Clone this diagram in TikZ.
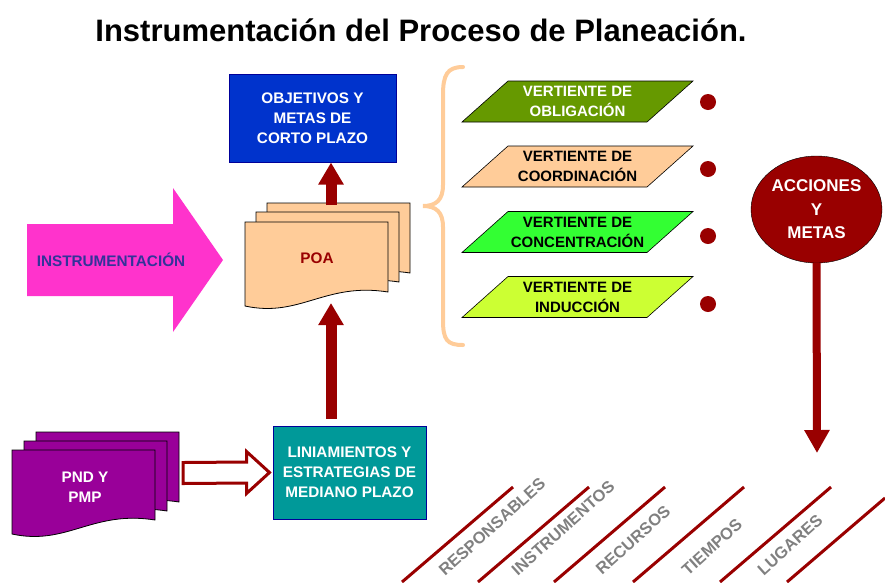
\documentclass[tikz,border=0pt]{standalone}
\usepackage{fontspec}
\setmainfont{Liberation Sans}
\usetikzlibrary{arrows.meta,calc,shapes.geometric}

\definecolor{rojo}{RGB}{153,0,0}
\definecolor{durazno}{RGB}{255,204,153}
\definecolor{rosa}{RGB}{255,51,204}
\definecolor{azulobj}{RGB}{0,51,204}
\definecolor{azulborde}{RGB}{0,0,153}
\definecolor{azultx}{RGB}{51,51,153}
\definecolor{morado}{RGB}{153,0,153}
\definecolor{verdeazul}{RGB}{0,153,153}
\definecolor{olivo}{RGB}{102,153,0}
\definecolor{verde}{RGB}{51,255,51}
\definecolor{limon}{RGB}{204,255,51}
\definecolor{gris}{RGB}{128,128,128}

% hoja con borde inferior ondulado
\newcommand{\hoja}[2]{%
  \draw[fill=#2,line width=0.8pt,shift={#1}] (0,0) -- (143,0) -- (143,70) .. controls (80,60) and (55,96) .. (0,84) -- cycle;}

\tikzset{
  letra/.style={font=\bfseries\fontsize{15.3}{20}\selectfont},
  caja/.style={letra, draw=azulborde, line width=1pt, fill=#1, text=white, align=center},
  vert/.style={font=\bfseries\fontsize{15}{20}\selectfont, align=center},
  etiq/.style={font=\bfseries\fontsize{16.5}{20}\selectfont, text=gris, rotate=42},
  flecha/.style={rojo, line width=11pt, -{Triangle[width=24pt,length=22pt]}}
}

\begin{document}
\begin{tikzpicture}[x=1pt,y=-1pt]
\useasboundingbox (0,0) rectangle (885,582);
\node (titulo) at (421,30) {\fontsize{31}{36}\selectfont\bfseries Instrumentación del Proceso de Planeación.};

\node[caja=azulobj, minimum width=167pt, minimum height=88pt] (obj) at (312.5,118) {OBJETIVOS Y\\METAS DE\\CORTO PLAZO};

% POA
\hoja{(267,203)}{durazno}
\hoja{(256,212)}{durazno}
\hoja{(245,222)}{durazno}
\node[letra, text=rojo] (poa) at (317,258) {POA};

% instrumentacion
\fill[rosa] (27,224) -- (173,224) -- (173,188) -- (223,260) -- (173,332) -- (173,296) -- (27,296) -- cycle;
\node[letra, text=azultx] (instr) at (111,260) {INSTRUMENTACIÓN};

% PND
\hoja{(36,432)}{morado}
\hoja{(24,441)}{morado}
\hoja{(12,450)}{morado}
\node[letra, text=white, align=center] (pnd) at (85,487) {PND Y\\PMP};

\node[caja=verdeazul, minimum width=153pt, minimum height=93pt] (lin) at (349.5,472.5) {LINIAMIENTOS Y\\ESTRATEGIAS DE\\MEDIANO PLAZO};

% flechas rojas
\coordinate (eje) at (331,0);
\coordinate (poaarriba) at (331,205);
\coordinate (poaabajo) at (331,303);
\draw[flecha] (poaarriba) -- (obj.south -| eje);
\draw[flecha, shorten <=7pt] (lin.north -| eje) -- (poaabajo);

% flecha hueca
\coordinate (hini) at (183,473);
\draw[rojo, line width=3pt, fill=white] ($(hini)+(0,-10.5)$) -- ($(lin.west)+(-26,-10.5)$) -- ($(lin.west)+(-26,-21)$) -- ($(lin.west)+(-3,0)$) -- ($(lin.west)+(-26,21)$) -- ($(lin.west)+(-26,10.5)$) -- ($(hini)+(0,10.5)$) -- cycle;

% llave
\draw[durazno, line width=4pt, line cap=round] (463,67) .. controls (447,67) and (443,75) .. (443,95) -- (443,185) .. controls (443,200) and (436,206) .. (423,206) .. controls (436,206) and (443,212) .. (443,227) -- (443,320) .. controls (443,340) and (447,345) .. (463,345);

% vertientes
\foreach \n/\yy/\col/\tc/\txt/\dy in {1/101.5/olivo/white/OBLIGACIÓN/102, 2/166.5/durazno/black/COORDINACIÓN/169, 3/232/verde/black/CONCENTRACIÓN/236, 4/297/limon/black/INDUCCIÓN/304}{
  \draw[fill=\col, line width=0.6pt] (462,\yy+20.5) -- (508,\yy-20.5) -- (693,\yy-20.5) -- (647,\yy+20.5) -- cycle;
  \node[vert, text=\tc] (v\n) at (577.5,\yy) {VERTIENTE DE\\\txt};
  \fill[rojo] (708,\dy) circle (8);
}

% acciones y metas
\node[ellipse, draw=black, fill=rojo, text=white, font=\bfseries\fontsize{17}{23.5}\selectfont, align=center, minimum width=131pt, minimum height=107pt, inner sep=0pt] (acc) at (816.5,209.5) {ACCIONES\\Y\\METAS};
\coordinate (accfin) at (817,453);
\draw[rojo, line width=8pt, -{Triangle[width=24pt,length=23pt]}] (acc.south) -- (accfin);

% lineas diagonales
\foreach \xa in {402,478,554,633,720}
  \draw[rojo, line width=3pt] (\xa,582) -- ++(111,-95);
\draw[rojo, line width=3pt] (787,582) -- (885,498);

\node[etiq] (resp) at (492,527) {RESPONSABLES};
\node[etiq] (inst) at (563,528) {INSTRUMENTOS};
\node[etiq] (rec) at (633,540) {RECURSOS};
\node[etiq] (tiem) at (712,547) {TIEMPOS};
\node[etiq] (lug) at (790,545) {LUGARES};
\end{tikzpicture}
\end{document}
